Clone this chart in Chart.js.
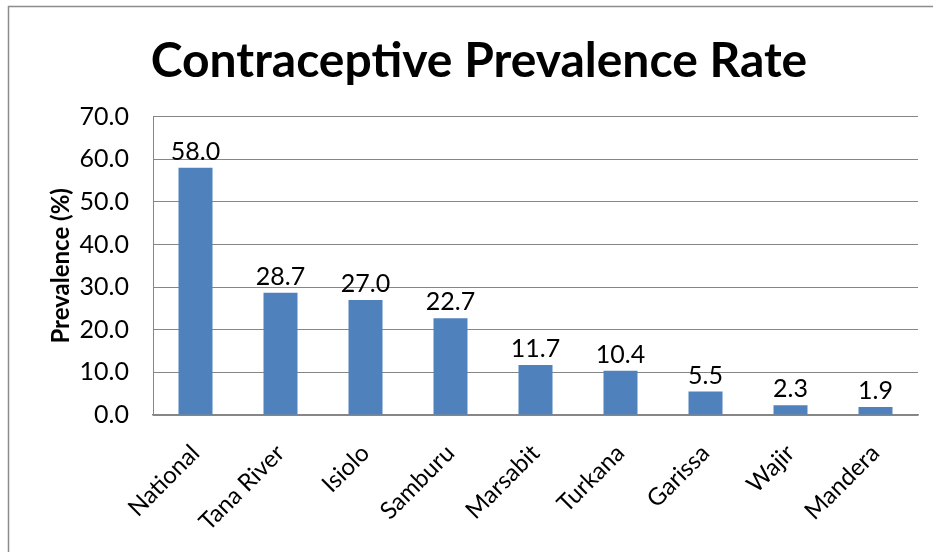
<!DOCTYPE html>
<html>
<head>
<meta charset="utf-8">
<script src="https://cdn.jsdelivr.net/npm/chart.js@4"></script>
<style>
    body { margin: 0; background: #ffffff; }
    #wrap { width: 933px; height: 552px; }
</style>
</head>
<body>
<div id="wrap"><canvas id="cprChart" width="933" height="552"></canvas></div>
<script>
// Data
const regions = ['National', 'Tana River', 'Isiolo', 'Samburu', 'Marsabit', 'Turkana', 'Garissa', 'Wajir', 'Mandera'];
const prevalence = [58.0, 28.7, 27.0, 22.7, 11.7, 10.4, 5.5, 2.3, 1.9];
const yTicks = [0, 10, 20, 30, 40, 50, 60, 70];

const fontFamily = 'Lato, "Open Sans", sans-serif';

// Outer frame of the chart object
const framePlugin = {
    id: 'frame',
    beforeDraw(chart) {
        const ctx = chart.ctx;
        ctx.save();
        ctx.fillStyle = '#ffffff';
        ctx.fillRect(0, 0, chart.width, chart.height);
        ctx.strokeStyle = '#8c8c8c';
        ctx.lineWidth = 1.5;
        ctx.strokeRect(8.5, 6.5, 960, 600);
        ctx.restore();
    }
};

// Value labels above each bar
const valueLabels = {
    id: 'valueLabels',
    afterDatasetsDraw(chart) {
        const ctx = chart.ctx;
        const meta = chart.getDatasetMeta(0);
        ctx.save();
        ctx.font = '25px ' + fontFamily;
        ctx.fillStyle = '#000000';
        ctx.textAlign = 'center';
        ctx.textBaseline = 'alphabetic';
        meta.data.forEach((bar, i) => {
            ctx.fillText(prevalence[i].toFixed(1), bar.x, bar.y - 8);
        });
        ctx.restore();
    }
};

const ctx = document.getElementById('cprChart').getContext('2d');
new Chart(ctx, {
    type: 'bar',
    data: {
        labels: regions,
        datasets: [{
            label: 'Prevalence (%)',
            data: prevalence,
            backgroundColor: '#4f81bd',
            barPercentage: 0.4,
            categoryPercentage: 1.0
        }]
    },
    options: {
        responsive: false,
        animation: false,
        devicePixelRatio: 1,
        layout: {
            padding: { left: 40, right: 15, top: 10, bottom: 0 }
        },
        plugins: {
            legend: { display: false },
            tooltip: { enabled: false },
            title: {
                display: true,
                text: 'Contraceptive Prevalence Rate',
                color: '#000000',
                font: { family: fontFamily, size: 48, weight: 'bold' },
                padding: { top: 23, bottom: 26 }
            }
        },
        scales: {
            x: {
                grid: { display: false, drawTicks: false },
                border: { color: '#868686', width: 1.5 },
                ticks: {
                    color: '#000000',
                    font: { family: fontFamily, size: 24 },
                    maxRotation: 45,
                    minRotation: 45,
                    padding: 24
                },
                afterFit(scale) { scale.height = 137; }
            },
            y: {
                min: 0,
                max: 70,
                afterBuildTicks(scale) {
                    scale.ticks = yTicks.map(v => ({ value: v }));
                },
                grid: { color: '#868686', drawTicks: false },
                border: { color: '#868686', width: 1 },
                ticks: {
                    color: '#000000',
                    font: { family: fontFamily, size: 25 },
                    padding: 24,
                    callback: v => v.toFixed(1)
                },
                title: {
                    display: true,
                    text: 'Prevalence (%)',
                    color: '#000000',
                    font: { family: fontFamily, size: 24, weight: 'bold' },
                    padding: { top: 7, bottom: 0 }
                },
                afterFit(scale) { scale.width = 113; }
            }
        }
    },
    plugins: [framePlugin, valueLabels]
});
</script>
</body>
</html>
